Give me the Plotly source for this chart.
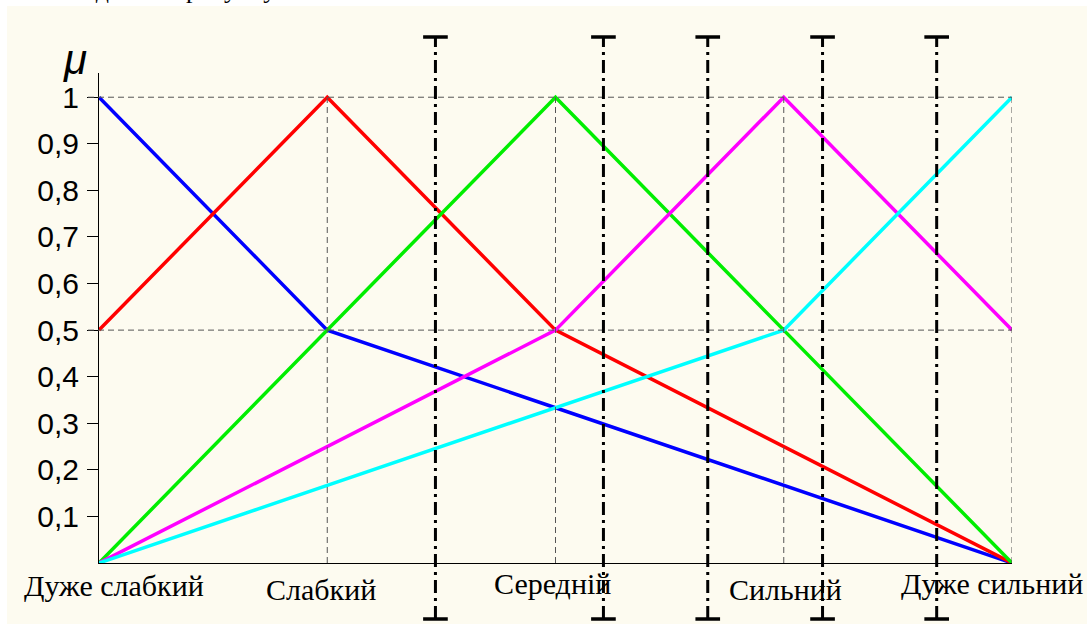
import plotly.graph_objects as go

# membership functions (x = term index, y = mu)
terms = ['Дуже слабкий', 'Слабкий', 'Середній', 'Сильний', 'Дуже сильний']
x_pts = [0, 1, 2, 3, 4]
mu_blue = [1, 0.5, 1/3, 1/6, 0]
mu_red = [0.5, 1, 0.5, 0.25, 0]
mu_green = [0, 0.5, 1, 0.5, 0]
mu_magenta = [0, 0.25, 0.5, 1, 0.5]
mu_cyan = [0, 1/6, 1/3, 0.5, 1]

# dash-dot borders between regions
borders = [1.474, 2.21, 2.667, 3.17, 3.67]

ytick_vals = [0.1, 0.2, 0.3, 0.4, 0.5, 0.6, 0.7, 0.8, 0.9, 1]
ytick_text = ['0,1', '0,2', '0,3', '0,4', '0,5', '0,6', '0,7', '0,8', '0,9', '1']

cream = '#FDFBF0'
fig = go.Figure()

series = [(mu_blue, '#0000FF'), (mu_red, '#FF0000'), (mu_green, '#00EE00'),
          (mu_magenta, '#FF00FF'), (mu_cyan, '#00FFFF')]
for vals, col in series:
    fig.add_trace(go.Scatter(x=x_pts, y=vals, mode='lines',
                             line=dict(color=col, width=3.5), showlegend=False))

# plot area in pixels: x 99..1012, y 73..563
W, H = 913, 490


def px(x):
    return (x - 99) / W


def py(y):
    return (563 - y) / H


shapes = []
# cream panel
shapes.append(dict(type='rect', xref='paper', yref='paper', x0=px(7), x1=px(1090),
                   y0=py(630), y1=py(6), fillcolor=cream, line_width=0, layer='below'))
# dashed reference lines
for yv in [1, 0.5]:
    shapes.append(dict(type='line', xref='paper', yref='y', x0=px(88), x1=1, y0=yv, y1=yv,
                       line=dict(color='#555555', width=1, dash='6px,4px')))
for xv in x_pts[1:]:
    shapes.append(dict(type='line', xref='x', yref='y', x0=xv, x1=xv, y0=0, y1=1,
                       line=dict(color='#555555', width=1, dash='6px,4px')))
# borders with T caps
for b in borders:
    shapes.append(dict(type='line', xref='x', yref='paper', x0=b, x1=b, y0=py(619), y1=py(37),
                       line=dict(color='black', width=3, dash='13px,5px,3px,5px')))
    for yy in [py(37), py(619)]:
        shapes.append(dict(type='line', xref='x', yref='paper', x0=b - 0.054, x1=b + 0.054,
                           y0=yy, y1=yy, line=dict(color='black', width=3.5)))

annotations = []
label_dx = [15, -6, -3, 2, -20]
label_dy = [-22, -26, -20, -26, -20]
for i, t in enumerate(terms):
    annotations.append(dict(x=x_pts[i], y=0, xref='x', yref='y', text=t, showarrow=False,
                            xshift=label_dx[i], yshift=label_dy[i],
                            font=dict(family='Liberation Serif', size=30, color='black')))
annotations.append(dict(x=px(61), y=py(34), xref='paper', yref='paper',
                        text='<i>μ</i>', showarrow=False,
                        font=dict(family='Liberation Sans', size=42, color='black')))
annotations.append(dict(x=px(45), y=py(6), xref='paper', yref='paper',
                        xanchor='left', yanchor='bottom', text='наведено на рисунку 3.',
                        showarrow=False,
                        font=dict(family='Liberation Serif', size=26, color='black')))

fig.update_layout(
    width=1087, height=624,
    margin=dict(l=99, r=75, t=73, b=61),
    paper_bgcolor='white', plot_bgcolor=cream,
    shapes=shapes, annotations=annotations,
    xaxis=dict(range=[0, 4], showgrid=False, zeroline=False, showticklabels=False,
               showline=True, linecolor='black', linewidth=1, ticks=''),
    yaxis=dict(range=[0, 1.052], showgrid=False, zeroline=False,
               tickvals=ytick_vals, ticktext=ytick_text, ticks='outside', ticklen=11,
               tickcolor='black', showline=True, linecolor='black', linewidth=1,
               ticklabelstandoff=2,
               tickfont=dict(family='Liberation Sans', size=30, color='black')),
)

fig.write_html('out.html', config={'displayModeBar': False},
               post_script="document.body.style.margin='0';")
